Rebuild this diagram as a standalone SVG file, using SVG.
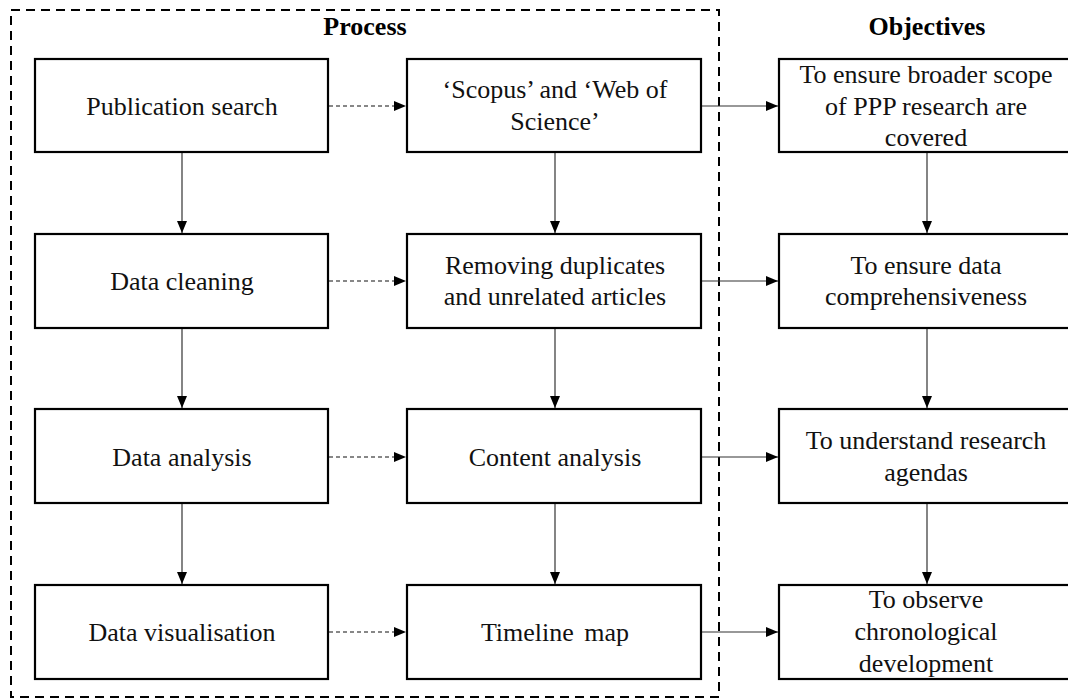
<svg xmlns="http://www.w3.org/2000/svg" width="1068" height="698" viewBox="0 0 1068 698">
<defs>
<style>
.box{fill:#fff;stroke:#000;stroke-width:2.2}
.t{font-family:"Liberation Serif","Times New Roman",serif;font-size:26px;fill:#111;text-anchor:middle}
.h{font-family:"Liberation Serif","Times New Roman",serif;font-size:26px;font-weight:bold;fill:#000;text-anchor:middle}
.c{stroke:#333;stroke-width:1.2;fill:none;marker-end:url(#ah)}
.d{stroke:#111;stroke-width:1.2;fill:none;stroke-dasharray:4 3;marker-end:url(#ah)}
.frame{fill:none;stroke:#000;stroke-width:2;stroke-dasharray:9 6}
</style>
<marker id="ah" viewBox="0 0 12 10" markerUnits="userSpaceOnUse" markerWidth="12" markerHeight="10" refX="12" refY="5" orient="auto">
<path d="M0,0 L12,5 L0,10 z" fill="#000"/>
</marker>
</defs>
<rect width="1068" height="698" fill="#fff"/>
<rect class="frame" x="11" y="10" width="708" height="687"/>
<text class="h" x="365" y="35">Process</text>
<text class="h" x="927" y="35">Objectives</text>

<g id="connectors">
<line class="c" x1="182" y1="153" x2="182" y2="233"/>
<line class="c" x1="182" y1="328" x2="182" y2="408"/>
<line class="c" x1="182" y1="503" x2="182" y2="584"/>
<line class="c" x1="555" y1="153" x2="555" y2="233"/>
<line class="c" x1="555" y1="328" x2="555" y2="408"/>
<line class="c" x1="555" y1="503" x2="555" y2="584"/>
<line class="c" x1="927" y1="153" x2="927" y2="233"/>
<line class="c" x1="927" y1="328" x2="927" y2="408"/>
<line class="c" x1="927" y1="503" x2="927" y2="584"/>
<line class="d" x1="329" y1="106" x2="406" y2="106"/>
<line class="d" x1="329" y1="281" x2="406" y2="281"/>
<line class="d" x1="329" y1="457" x2="406" y2="457"/>
<line class="d" x1="329" y1="632" x2="406" y2="632"/>
<line class="c" x1="702" y1="106" x2="778" y2="106"/>
<line class="c" x1="702" y1="281" x2="778" y2="281"/>
<line class="c" x1="702" y1="457" x2="778" y2="457"/>
<line class="c" x1="702" y1="632" x2="778" y2="632"/>
</g>

<g id="n1"><rect class="box" x="35" y="59" width="293" height="93"/><text class="t" x="182" y="115">Publication search</text></g>
<g id="n2"><rect class="box" x="35" y="234" width="293" height="94"/><text class="t" x="182" y="290">Data cleaning</text></g>
<g id="n3"><rect class="box" x="35" y="409" width="293" height="94"/><text class="t" x="182" y="466">Data analysis</text></g>
<g id="n4"><rect class="box" x="35" y="585" width="293" height="94"/><text class="t" x="182" y="641">Data visualisation</text></g>

<g id="m1"><rect class="box" x="407" y="59" width="294" height="93"/><text class="t" x="555" y="98">‘Scopus’ and ‘Web of</text><text class="t" x="555" y="130">Science’</text></g>
<g id="m2"><rect class="box" x="407" y="234" width="294" height="94"/><text class="t" x="555" y="274">Removing duplicates</text><text class="t" x="555" y="305">and unrelated articles</text></g>
<g id="m3"><rect class="box" x="407" y="409" width="294" height="94"/><text class="t" x="555" y="466">Content analysis</text></g>
<g id="m4"><rect class="box" x="407" y="585" width="294" height="94"/><text class="t" x="555" y="641" word-spacing="4">Timeline map</text></g>

<g id="o1"><rect class="box" x="779" y="59" width="296" height="93"/><text class="t" x="926" y="83">To ensure broader scope</text><text class="t" x="926" y="115">of PPP research are</text><text class="t" x="926" y="146">covered</text></g>
<g id="o2"><rect class="box" x="779" y="234" width="296" height="94"/><text class="t" x="926" y="274">To ensure data</text><text class="t" x="926" y="305">comprehensiveness</text></g>
<g id="o3"><rect class="box" x="779" y="409" width="296" height="94"/><text class="t" x="926" y="449">To understand research</text><text class="t" x="926" y="481">agendas</text></g>
<g id="o4"><rect class="box" x="779" y="585" width="296" height="94"/><text class="t" x="926" y="608">To observe</text><text class="t" x="926" y="640">chronological</text><text class="t" x="926" y="672">development</text></g>
</svg>
